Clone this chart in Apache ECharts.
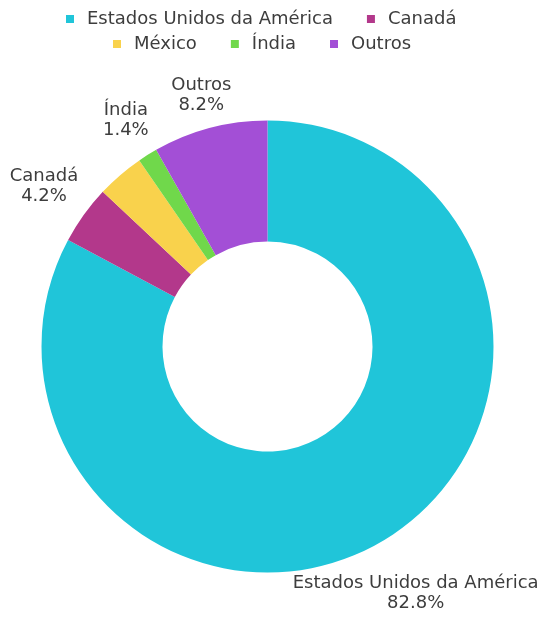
<!DOCTYPE html>
<html>
<head>
<meta charset="utf-8">
<script src="https://cdn.jsdelivr.net/npm/echarts@6/dist/echarts.min.js"></script>
<style>
  html, body { margin: 0; padding: 0; background: #ffffff; }
  #chart { width: 542px; height: 621px; }
</style>
</head>
<body>
<div id="chart"></div>
<script>
// Share of total by country (%)
const countries = ['Estados Unidos da América', 'Canadá', 'México', 'Índia', 'Outros'];
const shares = [82.8, 4.2, 3.4, 1.4, 8.2];
const sliceColors = ['#20c5d9', '#b3388b', '#f9d24c', '#70d84b', '#a34fd6'];
const legendRow1 = ['Estados Unidos da América', 'Canadá'];
const legendRow2 = ['México', 'Índia', 'Outros'];
const unlabelled = ['México'];

// Ring geometry (px)
const CX = 267.5, CY = 346.5, R_OUT = 226, R_IN = 105;
// Distance from the ring centre to the centre of each outside label
const labelDistance = { 'Estados Unidos da América': 288, 'Canadá': 275, 'Índia': 267, 'Outros': 260 };

const FONT = 'DejaVu Sans';
const TEXT_COLOR = '#3d3d3d';

// Mid-angle of every slice, measured clockwise from 12 o'clock
const total = shares.reduce((a, b) => a + b, 0);
const midAngles = [];
let acc = 0;
shares.forEach(v => { midAngles.push((acc + v / 2) / total * 2 * Math.PI); acc += v; });

const legendBase = {
  orient: 'horizontal',
  padding: 0,
  icon: 'rect',
  itemWidth: 8,
  itemHeight: 8,
  itemGap: 34,
  textStyle: { fontFamily: FONT, fontSize: 18, color: TEXT_COLOR, padding: [0, 0, 0, 8] },
  selectedMode: false
};

const chart = echarts.init(document.getElementById('chart'), null, { renderer: 'canvas' });
chart.setOption({
  animation: false,
  color: sliceColors,
  legend: [
    Object.assign({}, legendBase, { left: 66, top: 10, data: legendRow1 }),
    Object.assign({}, legendBase, { left: 113, top: 35, data: legendRow2 })
  ],
  series: [{
    type: 'pie',
    center: [CX, CY],
    radius: [R_IN, R_OUT],
    startAngle: 90,
    clockwise: true,
    avoidLabelOverlap: false,
    itemStyle: { borderWidth: 0 },
    label: {
      show: true,
      position: 'outside',
      formatter: '{b}\n{c}%',
      fontFamily: FONT,
      fontSize: 18,
      lineHeight: 20,
      color: TEXT_COLOR,
      align: 'center'
    },
    labelLine: { show: false },
    labelLayout: function (p) {
      const a = midAngles[p.dataIndex];
      const d = labelDistance[countries[p.dataIndex]] || (R_OUT + 30);
      return {
        x: CX + d * Math.sin(a),
        y: CY - d * Math.cos(a),
        align: 'center',
        verticalAlign: 'middle'
      };
    },
    data: countries.map((name, i) => ({
      name: name,
      value: shares[i],
      label: { show: unlabelled.indexOf(name) < 0 }
    }))
  }]
});
</script>
</body>
</html>
